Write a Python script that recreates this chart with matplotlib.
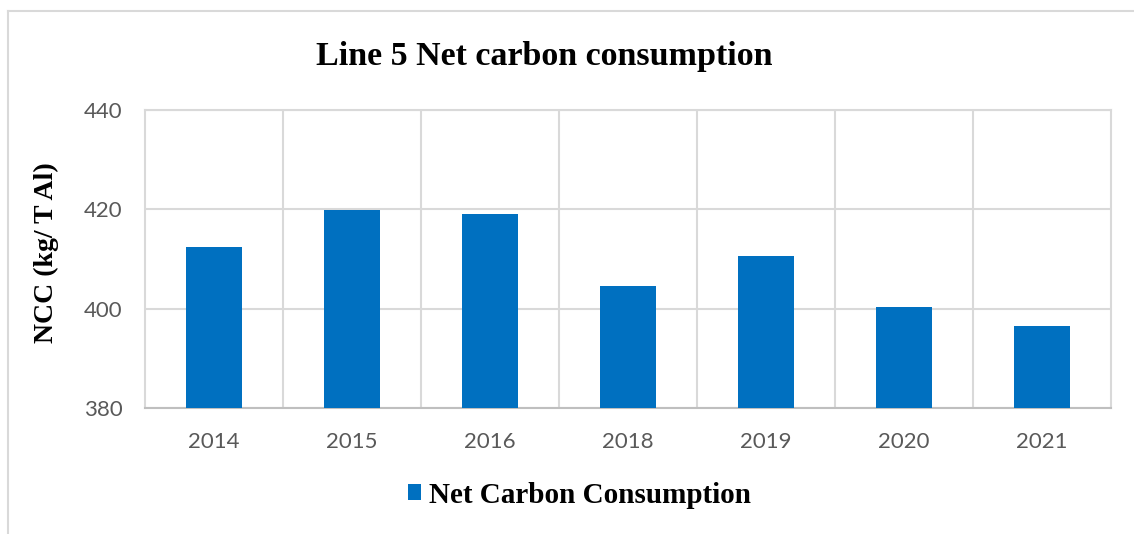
import matplotlib.pyplot as plt
from matplotlib.lines import Line2D
from matplotlib.patches import Patch

# Net carbon consumption per year, line 5
years = ['2014', '2015', '2016', '2018', '2019', '2020', '2021']
ncc = [412.5, 419.9, 419.1, 404.5, 410.6, 400.3, 396.5]

bar_color = '#0070C0'
grid_color = '#d9d9d9'

fig = plt.figure(figsize=(11.34, 5.34), dpi=100)
ax = fig.add_axes([0.1279, 0.236, 0.852, 0.558])

x = range(len(years))
ax.bar(x, ncc, width=0.41, color=bar_color, zorder=3)

ax.set_ylim(380, 440)
ax.set_yticks([380, 400, 420, 440])
ax.set_xlim(-0.5, len(years) - 0.5)
ax.set_xticks(list(x))
ax.set_xticklabels(years)
ax.set_xticks([i + 0.5 for i in range(len(years) - 1)], minor=True)

ax.grid(axis='y', which='major', color=grid_color, linewidth=1.5, zorder=0)
ax.grid(axis='x', which='minor', color=grid_color, linewidth=1.5, zorder=0)
ax.tick_params(which='both', length=0)
ax.tick_params(axis='both', labelsize=16, labelcolor='#595959')
ax.tick_params(axis='x', pad=17)
ax.tick_params(axis='y', pad=16)
for lbl in ax.get_xticklabels() + ax.get_yticklabels():
    lbl.set_family('Lato')

for side in ['top', 'right', 'left']:
    ax.spines[side].set_color(grid_color)
    ax.spines[side].set_linewidth(1.5)
ax.spines['bottom'].set_color('#bfbfbf')
ax.spines['bottom'].set_linewidth(1.5)

fig.text(0.48, 0.895, 'Line 5 Net carbon consumption', ha='center', va='center',
         fontsize=24.5, fontweight='bold', family='Liberation Serif')
fig.text(0.041, 0.526, 'NCC (kg/ T Al)', ha='center', va='center', rotation=90,
         fontsize=20, fontweight='bold', family='Liberation Serif')

handle = Patch(facecolor=bar_color, edgecolor='none')
fig.legend([handle], ['Net Carbon Consumption'], loc='center', bbox_to_anchor=(0.511, 0.073),
           frameon=False, handlelength=0.45, handleheight=0.45, handletextpad=0.25,
           prop={'family': 'Liberation Serif', 'weight': 'bold', 'size': 21})

# outer chart border (top and left edges)
fig.add_artist(Line2D([0.0071, 1.0], [0.979, 0.979], color=grid_color, linewidth=1.5))
fig.add_artist(Line2D([0.0071, 0.0071], [0.0, 0.979], color=grid_color, linewidth=1.5))

fig.savefig('out.png', dpi=100)
